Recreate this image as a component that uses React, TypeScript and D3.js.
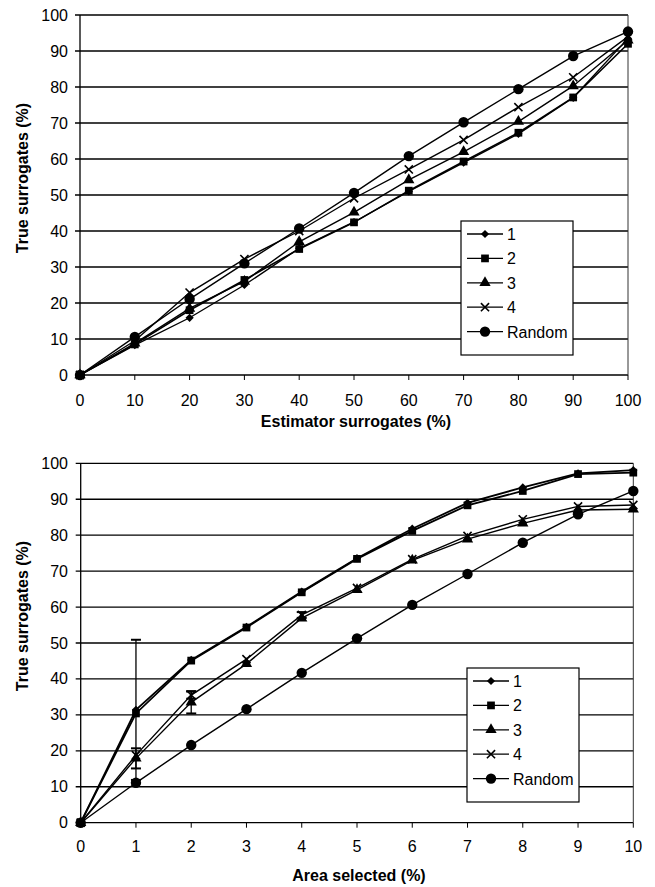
import React from 'react'
import * as d3 from 'd3'

// top panel: estimator surrogates vs true surrogates
const topX = [0, 10, 20, 30, 40, 50, 60, 70, 80, 90, 100]
const top1 = [0, 8.3, 15.9, 25, 35.2, 42.5, 51, 59, 67, 77, 93.5]
const top2 = [0, 8.5, 18, 26.4, 35, 42.4, 51.2, 59.3, 67.3, 77.1, 92]
const top3 = [0, 8.8, 18.5, 26, 37, 45.2, 54.2, 62, 70.4, 80.3, 93]
const top4 = [0, 9.5, 22.9, 32.2, 40, 49.1, 57.1, 65.3, 74.4, 82.7, 94]
const topRandom = [0, 10.6, 21.1, 31, 40.7, 50.6, 60.8, 70.2, 79.4, 88.6, 95.4]

// bottom panel: area selected vs true surrogates
const bottomX = [0, 1, 2, 3, 4, 5, 6, 7, 8, 9, 10]
const bot1 = [0, 31.4, 45.3, 54.5, 64.3, 73.6, 81.8, 89, 93.3, 97.2, 98.1]
const bot2 = [0, 30.4, 45.1, 54.3, 64.1, 73.4, 81.2, 88.3, 92.3, 97, 97.4]
const bot3 = [0, 17.9, 33.5, 44.2, 56.9, 64.8, 73, 78.9, 83.3, 87, 87.2]
const bot4 = [0, 18.8, 35.5, 45.5, 57.8, 65.3, 73.3, 79.8, 84.4, 88, 88.4]
const botRandom = [0, 11.1, 21.6, 31.6, 41.7, 51.3, 60.6, 69.2, 77.9, 85.8, 92.3]
const bot1Err = [0, 19.5, 0, 0, 0, 0, 0, 0, 0, 0, 0]
const bot3Err = [0, 2.8, 3.1, 0, 0, 0, 0, 0, 0, 0, 0]
const bot4Err = [0, 0, 1, 0, 0.8, 0, 0, 0, 0, 0, 0]

const seriesNames = ['1', '2', '3', '4', 'Random']
const yTicks = [0, 10, 20, 30, 40, 50, 60, 70, 80, 90, 100]

const font = 'Arial, "Liberation Sans", sans-serif'

const markerPath = (i: number) => {
  const types = [d3.symbolSquare, d3.symbolSquare, d3.symbolTriangle, d3.symbolX, d3.symbolCircle]
  const sizes = [34, 60, 55, 45, 85]
  return d3.symbol().type(types[i]).size(sizes[i])() as string
}

const Marker = ({ i, x, y }: { i: number; x: number; y: number }) =>
  i === 3 ? (
    <path d={markerPath(i)} transform={`translate(${x},${y})`} fill="none" stroke="#000" strokeWidth={1.6} />
  ) : (
    <path d={markerPath(i)} transform={`translate(${x},${y})${i === 0 ? ' rotate(45)' : ''}`} fill="#000" />
  )

type ChartProps = {
  xs: number[]
  series: number[][]
  errors: (number[] | null)[]
  left: number
  right: number
  top: number
  bottom: number
  xTitle: string
  tickOffset: number
  titleOffset: number
  yTitleY: number
  legend: { x: number; y: number; w: number; h: number }
  widths: number[]
}

const Chart = ({ xs, series, errors, left, right, top, bottom, xTitle, tickOffset, titleOffset, yTitleY, legend, widths }: ChartProps) => {
  const x = d3.scaleLinear().domain([xs[0], xs[xs.length - 1]]).range([left, right])
  const y = d3.scaleLinear().domain([0, 100]).range([bottom, top])
  const line = d3.line<number>().x((_, k) => x(xs[k])).y(d => y(d))
  const rowH = (legend.h - 12) / 5
  return (
    <g fontFamily={font}>
      {yTicks.map(t => (
        <g key={t}>
          <line x1={left - 5} x2={right} y1={y(t)} y2={y(t)} stroke="#000" strokeWidth={1.3} />
          <text x={68} y={y(t) + 5.5} fontSize={16} textAnchor="end">{t}</text>
        </g>
      ))}
      <line x1={right} x2={right} y1={top} y2={bottom} stroke="#333" strokeWidth={1} />
      <line x1={left} x2={left} y1={top} y2={bottom} stroke="#000" strokeWidth={1.3} />
      {xs.map(t => (
        <g key={t}>
          <line x1={x(t)} x2={x(t)} y1={bottom} y2={bottom + 5} stroke="#000" strokeWidth={1} />
          <text x={x(t)} y={bottom + tickOffset} fontSize={16} textAnchor="middle">{t}</text>
        </g>
      ))}
      <text x={(left + right) / 2 + 2} y={bottom + titleOffset} fontSize={16} fontWeight="bold" textAnchor="middle">{xTitle}</text>
      <text transform={`translate(28,${yTitleY}) rotate(-90)`} fontSize={16} fontWeight="bold" textAnchor="middle">True surrogates (%)</text>
      {series.map((s, i) => (
        <path key={i} d={line(s) as string} fill="none" stroke="#000" strokeWidth={widths[i]} />
      ))}
      {errors.map((e, i) =>
        e
          ? e.map((v, k) =>
              v > 0 ? (
                <g key={`${i}-${k}`} stroke="#000" strokeWidth={1.3}>
                  <line x1={x(xs[k])} x2={x(xs[k])} y1={y(series[i][k] - v)} y2={y(series[i][k] + v)} />
                  <line x1={x(xs[k]) - 5} x2={x(xs[k]) + 5} y1={y(series[i][k] + v)} y2={y(series[i][k] + v)} strokeWidth={2} />
                  <line x1={x(xs[k]) - 5} x2={x(xs[k]) + 5} y1={y(series[i][k] - v)} y2={y(series[i][k] - v)} strokeWidth={2} />
                </g>
              ) : null
            )
          : null
      )}
      {series.map((s, i) => s.map((v, k) => <Marker key={`${i}-${k}`} i={i} x={x(xs[k])} y={y(v)} />))}
      <rect x={legend.x} y={legend.y} width={legend.w} height={legend.h} fill="#fff" stroke="#000" strokeWidth={1.2} />
      {seriesNames.map((n, i) => {
        const cy = legend.y + 13 + rowH * i
        return (
          <g key={n}>
            <line x1={legend.x + 6} x2={legend.x + 42} y1={cy} y2={cy} stroke="#000" strokeWidth={1.3} />
            <Marker i={i} x={legend.x + 24} y={cy} />
            <text x={legend.x + 46} y={cy + 6} fontSize={16}>{n}</text>
          </g>
        )
      })}
    </g>
  )
}

const App = () => (
  <svg width={655} height={887} style={{ position: 'absolute', left: 0, top: 0, background: '#fff' }}>
    <Chart
      xs={topX}
      series={[top1, top2, top3, top4, topRandom]}
      errors={[null, null, null, null, null]}
      left={80}
      right={628}
      top={15}
      bottom={375}
      xTitle="Estimator surrogates (%)"
      tickOffset={31}
      titleOffset={52}
      yTitleY={178}
      legend={{ x: 461, y: 221, w: 112, h: 134 }}
      widths={[1.4, 1.6, 1.4, 1.4, 1.4]}
    />
    <Chart
      xs={bottomX}
      series={[bot1, bot2, bot3, bot4, botRandom]}
      errors={[bot1Err, null, bot3Err, bot4Err, null]}
      left={80.7}
      right={633.3}
      top={463.3}
      bottom={822.7}
      xTitle="Area selected (%)"
      tickOffset={29.5}
      titleOffset={58}
      yTitleY={616}
      legend={{ x: 467, y: 668, w: 112, h: 134 }}
      widths={[1.8, 1.8, 1.4, 1.4, 1.4]}
    />
  </svg>
)

export default App
